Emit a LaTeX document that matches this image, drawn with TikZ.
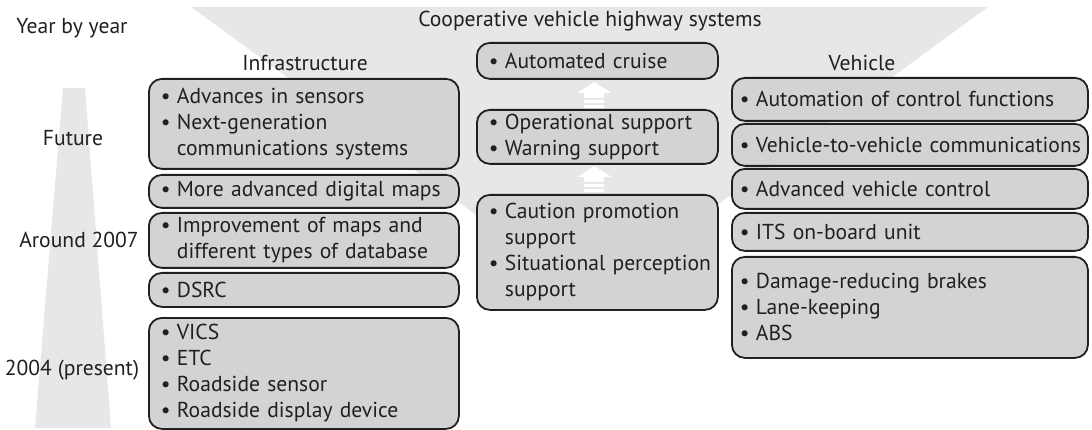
\documentclass[tikz,border=0pt]{standalone}
\usepackage{fontspec}
\setmainfont{PT Sans}
\definecolor{bggray}{HTML}{E6E7E8}
\definecolor{boxfill}{HTML}{D1D3D4}
\definecolor{ink}{HTML}{231F20}
\newcommand{\bl}[1]{\mbox{\makebox[16pt][l]{\textbullet}#1}}
\newcommand{\cl}[1]{\mbox{\hspace*{16pt}#1}}
\tikzset{
  ibox/.style={draw=ink, line width=1.8pt, fill=boxfill, rounded corners=13pt,
    anchor=north west, align=left, inner xsep=12pt, inner ysep=0pt,
    font=\fontsize{21.6}{26}\selectfont, text=ink},
  rbox/.style={ibox, inner xsep=8pt},
  lbl/.style={font=\fontsize{21.6}{26}\selectfont, text=ink, inner sep=0pt},
  uparr/.pic={
    \fill[white] (-17,0) -- (0,-11) -- (17,0) -- cycle;
    \fill[white] (-10,0) rectangle (10,5);
    \fill[white] (-10,7) rectangle (10,10);
    \fill[white] (-10,12) rectangle (10,15);
  }
}
\begin{document}
\begin{tikzpicture}[x=1pt,y=-1pt]
\useasboundingbox (0,0) rectangle (1092,430);
\fill[bggray] (191,7) -- (988,7) -- (590,298) -- cycle;
\fill[bggray] (63,88) -- (85,88) -- (111,428) -- (35,428) -- cycle;

\node[lbl] (yby) at (72,28) {Year by year};
\node[lbl] (fut) at (73,138) {Future};
\node[lbl] (a2007) at (79,240) {Around 2007};
\node[lbl] (p2004) at (72,370) {2004 (present)};
\node[lbl] (infra) at (305,63) {Infrastructure};
\node[lbl] (veh) at (862,63) {Vehicle};
\node[lbl] (cvhs) at (590,21) {Cooperative vehicle highway systems};

% infrastructure column
\node[ibox, text width=286pt, minimum height=90pt] (l1) at (148,78)
  {\bl{Advances in sensors}\\\bl{Next-generation}\\\cl{communications systems}};
\node[ibox, text width=286pt, minimum height=33pt] (l2) at (148,174)
  {\bl{More advanced digital maps}};
\node[ibox, text width=286pt, minimum height=55pt] (l3) at (148,212)
  {\bl{Improvement of maps and}\\\cl{different types of database}};
\node[ibox, text width=286pt, minimum height=34pt] (l4) at (148,272)
  {\bl{DSRC}};
\node[ibox, text width=286pt, minimum height=111pt] (l5) at (148,317)
  {\bl{VICS}\\\bl{ETC}\\\bl{Roadside sensor}\\\bl{Roadside display device}};

% middle column
\node[ibox, text width=217pt, minimum height=36pt] (m1) at (476,42)
  {\bl{Automated cruise}};
\node[ibox, text width=217pt, minimum height=54pt] (m2) at (476,109)
  {\bl{Operational support}\\\bl{Warning support}};
\node[ibox, text width=217pt, minimum height=115pt] (m3) at (476,194)
  {\bl{Caution promotion}\\\cl{support}\\\bl{Situational perception}\\\cl{support}};

\path ([xshift=-3pt]m2.north) ++(0,-16) pic {uparr};
\path ([xshift=-3pt]m3.north) ++(0,-17) pic {uparr};

% vehicle column
\node[rbox, text width=340pt, minimum height=43pt] (r1) at (731,77)
  {\bl{Automation of control functions}};
\node[rbox, text width=340pt, minimum height=42pt] (r2) at (731,123)
  {\bl{Vehicle-to-vehicle communications}};
\node[rbox, text width=340pt, minimum height=40pt] (r3) at (731,168)
  {\bl{Advanced vehicle control}};
\node[rbox, text width=340pt, minimum height=38pt] (r4) at (731,212)
  {\bl{ITS on-board unit}};
\node[rbox, text width=340pt, minimum height=101pt] (r5) at (731,256)
  {\bl{Damage-reducing brakes}\\\bl{Lane-keeping}\\\bl{ABS}};
\end{tikzpicture}
\end{document}
